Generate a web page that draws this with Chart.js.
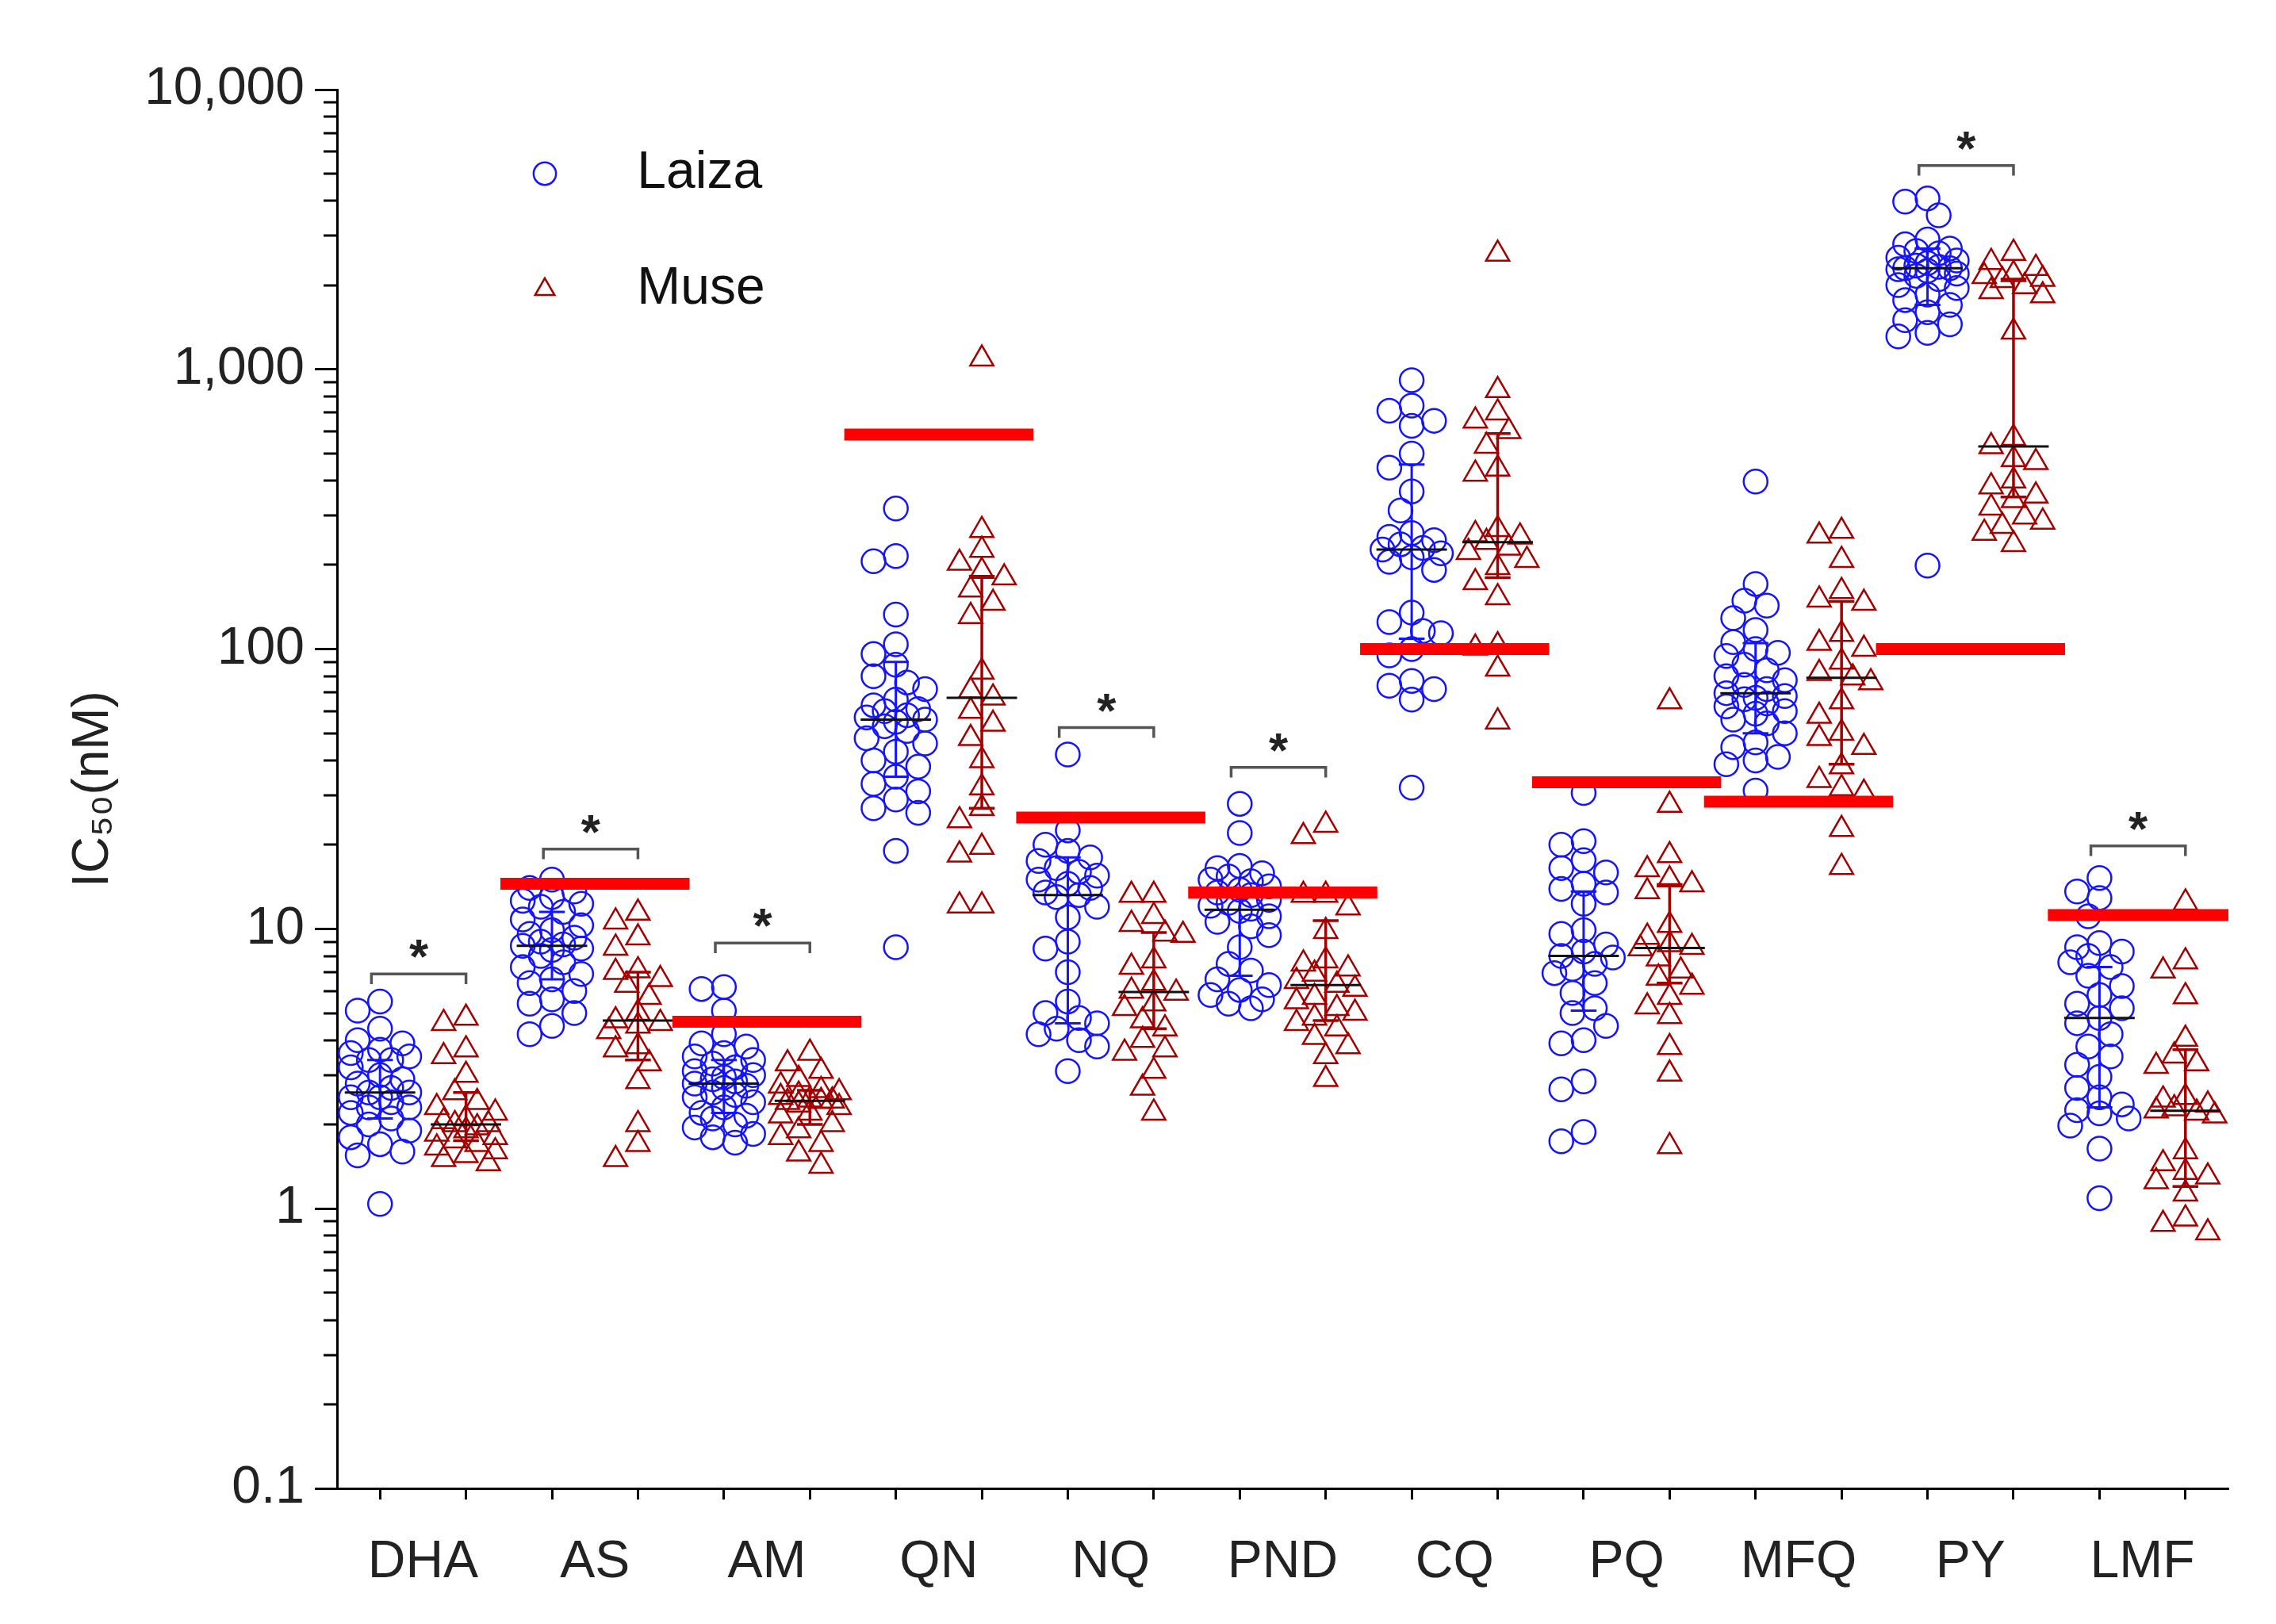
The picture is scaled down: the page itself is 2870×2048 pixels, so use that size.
<!DOCTYPE html>
<html>
<head>
<meta charset="utf-8">
<script src="https://cdn.jsdelivr.net/npm/chart.js@4.4.1/dist/chart.umd.min.js"></script>
<style>
  html, body { margin: 0; padding: 0; background: #fff; }
  #wrap { width: 2870px; height: 2048px; }
</style>
</head>
<body>
<div id="wrap"><canvas id="ic50Chart"></canvas></div>
<script>
// Drugs on the x axis and the two sites
const drugs = ['DHA', 'AS', 'AM', 'QN', 'NQ', 'PND', 'CQ', 'PQ', 'MFQ', 'PY', 'LMF'];
const siteNames = ['Laiza', 'Muse'];

// y axis (log) tick values and their labels
const yTickValues = [0.1, 1, 10, 100, 1000, 10000];
const yTickLabels = ['0.1', '1', '10', '100', '1,000', '10,000'];

// IC50 values (nM), per drug and site
const laizaDHA = [5.5, 5.1, 4.4, 4.0, 3.9, 3.7, 3.6, 3.5, 3.4, 3.4, 3.2, 3.0, 2.9, 2.8, 2.7, 2.6, 2.6, 2.5, 2.5, 2.4, 2.3, 2.3, 2.2, 2.1, 2.0, 1.9, 1.8, 1.7, 1.6, 1.55, 1.04];
const museDHA = [4.8, 4.6, 3.7, 3.5, 3.0, 2.6, 2.4, 2.3, 2.2, 2.1, 2.05, 2.0, 2.0, 1.95, 1.9, 1.85, 1.8, 1.75, 1.7, 1.65, 1.6, 1.55, 1.5, 1.45];
const laizaAS = [15, 14, 13.6, 13, 12.6, 12.3, 12, 11.5, 10.8, 10.3, 9.9, 9.6, 9.3, 9.0, 8.8, 8.7, 8.5, 8.4, 8.0, 7.6, 7.3, 6.9, 6.6, 6.4, 6.0, 5.6, 5.4, 5.0, 4.5, 4.2];
const museAS = [11.4, 10.6, 9.3, 8.55, 7.1, 7.0, 6.6, 6.3, 5.7, 5.0, 4.7, 4.6, 4.5, 4.3, 3.8, 3.7, 3.3, 2.85, 2.0, 1.7, 1.5];
const laizaAM = [6.2, 6.1, 5.1, 4.2, 3.9, 3.8, 3.6, 3.5, 3.4, 3.3, 3.2, 3.1, 3.0, 2.95, 2.9, 2.85, 2.8, 2.75, 2.7, 2.6, 2.55, 2.5, 2.4, 2.3, 2.2, 2.15, 2.1, 2.0, 1.95, 1.85, 1.8, 1.72];
const museAM = [3.6, 3.3, 3.1, 2.9, 2.75, 2.65, 2.6, 2.55, 2.5, 2.45, 2.43, 2.42, 2.4, 2.35, 2.3, 2.2, 2.15, 2.0, 1.9, 1.8, 1.7, 1.57, 1.42];
const laizaQN = [318, 215, 206, 133, 104, 96, 88, 80, 76, 72, 66, 63, 61, 60, 58, 57, 56, 55, 53, 51, 48, 46, 43, 40, 38, 35, 33, 31, 29, 27, 26, 19, 8.6];
const museQN = [1090, 266, 226, 203, 190, 180, 163, 146, 131, 83, 71, 67, 60, 54, 48, 40, 32, 27, 24.4, 19.6, 18.4, 12.1, 12.1];
const laizaNQ = [42, 22.5, 20, 19, 18, 17.5, 16.5, 16, 15.5, 15, 14.5, 14, 13.5, 13.2, 13, 12, 11, 9, 8.5, 7, 5.5, 5, 4.8, 4.6, 4.4, 4.2, 4.0, 3.8, 3.1];
const museNQ = [13.2, 13.2, 11.1, 10.4, 9.6, 9.5, 7.7, 7.3, 6.4, 6.0, 5.9, 5.4, 5.2, 4.7, 4.4, 4.0, 3.7, 3.6, 3.1, 2.7, 2.2];
const laizaPND = [28, 22, 16.8, 16.5, 15.8, 15.4, 15, 14.8, 14.2, 13.8, 13.5, 13.2, 12.7, 12.4, 12.1, 11.8, 11.6, 11.1, 10.6, 10.2, 9.5, 8.6, 7.5, 7.1, 6.6, 6.3, 6.05, 5.8, 5.6, 5.4, 5.2];
const musePND = [23.5, 21.4, 13.2, 13.2, 11.9, 9.8, 7.7, 7.5, 7.2, 6.9, 6.5, 6.3, 6.1, 5.7, 5.5, 5.2, 5.0, 4.8, 4.6, 4.4, 4.1, 3.8, 3.5, 2.9];
const laizaCQ = [914, 742, 711, 655, 628, 500, 445, 366, 313, 260, 252, 245, 237, 230, 227, 220, 213, 205, 192, 135, 125, 116, 114, 100, 95, 77, 74, 72, 66, 32];
const museCQ = [2584, 841, 700, 655, 600, 532, 441, 423, 268, 257, 252, 241, 230, 222, 208, 196, 173, 153, 103, 101, 85, 55];
const laizaPQ = [30.6, 20.6, 20, 17.6, 16.5, 15.9, 14.5, 13.9, 13.5, 12.3, 9.9, 9.6, 8.8, 8.3, 8.0, 7.9, 7.5, 7.2, 6.95, 6.4, 5.9, 5.2, 5.0, 4.5, 4.0, 3.9, 2.85, 2.67, 1.88, 1.74];
const musePQ = [64.9, 27.7, 18.3, 16.3, 15, 14.4, 13.6, 10.3, 9.35, 8.8, 8.6, 8.5, 7.83, 7.08, 6.68, 6.2, 5.7, 5.27, 4.87, 3.77, 3.03, 1.67];
const laizaMFQ = [397, 171, 149, 143, 129, 117, 106, 100, 97, 94.5, 88, 84, 80, 77.5, 74.5, 72, 69.6, 68, 67, 66.2, 64, 62.4, 60, 58.8, 56, 54.3, 50, 46.4, 44.6, 41.2, 40, 38.8, 31.2];
const museMFQ = [264, 254, 208, 161, 150, 146, 113, 105, 100, 90, 82, 79, 76, 64.9, 57.6, 50.1, 48, 44.6, 38, 34, 31.8, 30.6, 22.7, 16.6];
const laizaPY = [4080, 3980, 3555, 2915, 2800, 2704, 2650, 2600, 2507, 2450, 2400, 2350, 2326, 2300, 2298, 2280, 2250, 2200, 2159, 2100, 2000, 1953, 1850, 1769, 1700, 1600, 1500, 1449, 1350, 1312, 199];
const musePY = [2604, 2415, 2300, 2186, 2150, 2100, 2081, 1978, 1900, 1835, 1361, 568, 530, 477, 465, 400, 381, 353, 340, 320, 297, 285, 275, 260, 237];
const laizaLMF = [15.2, 13.6, 12.9, 11.1, 8.9, 8.6, 8.3, 8.0, 7.6, 7.3, 6.8, 6.25, 5.8, 5.4, 5.2, 4.8, 4.6, 4.2, 3.8, 3.5, 3.27, 2.96, 2.7, 2.5, 2.36, 2.25, 2.19, 2.1, 1.98, 1.64, 1.09];
const museLMF = [12.4, 7.64, 7.08, 5.73, 4.04, 3.52, 3.3, 3.23, 2.5, 2.45, 2.35, 2.28, 2.24, 2.2, 2.15, 1.6, 1.45, 1.35, 1.3, 1.25, 1.13, 0.92, 0.88, 0.82];

// medians and interquartile ranges (per drug)
const laizaMedian = [2.6, 8.7, 2.8, 56, 13.2, 11.7, 227, 8.0, 69.6, 2298, 4.8];
const museMedian = [2.0, 4.7, 2.43, 67, 5.95, 6.3, 241, 8.55, 79, 530, 2.24];
const laizaQ1 = [2.1, 6.6, 2.2, 35, 4.6, 6.8, 109, 5.1, 50, 1700, 2.3];
const laizaQ3 = [3.4, 11.5, 3.4, 90, 18, 14, 457, 13.6, 105, 2700, 7.3];
const museQ1 = [1.75, 3.4, 2.0, 27, 4.4, 4.7, 180, 6.4, 38.8, 350, 1.2];
const museQ3 = [2.6, 7.0, 2.65, 182, 9.7, 10.7, 590, 14.4, 148, 2100, 3.7];

// resistance cut-off per drug (red bars), null = none
const cutoffs = [null, 14.5, 4.66, 585, 25, 13.5, 100, 33.4, 28.5, 100, 11.2];
// height of the significance bracket per drug, null = not significant
const sigBrackets = [6.9, 19.3, 8.9, null, 52.4, 37.8, null, null, null, 5350, 19.8];

const laizaValues = [laizaDHA, laizaAS, laizaAM, laizaQN, laizaNQ, laizaPND, laizaCQ, laizaPQ, laizaMFQ, laizaPY, laizaLMF];
const museValues = [museDHA, museAS, museAM, museQN, museNQ, musePND, museCQ, musePQ, museMFQ, musePY, museLMF];

const FONT = "'Liberation Sans Narrow', 'Arial Narrow', 'Liberation Sans', Arial, sans-serif";
const BLUE = '#1414ff';
const DARK_RED = '#a30000';

// rough pixel sizes, only used to push overlapping markers sideways
const DECADE_PX = 353;
const UNIT_PX = 108;
const offsets = [0, -0.13, 0.13, -0.26, 0.26, -0.34, 0.34];

const spread = (values, cx) => {
    const placed = [];
    return values.map((v) => {
        const py = Math.log10(v) * DECADE_PX;
        let best = 0, bestDist = -1;
        for (const o of offsets) {
            const px = o * UNIT_PX;
            let d = Infinity;
            placed.forEach(p => { d = Math.min(d, Math.hypot(p[0] - px, p[1] - py)); });
            if (d >= 24) { best = o; break; }
            if (d > bestDist) { bestDist = d; best = o; }
        }
        placed.push([best * UNIT_PX, py]);
        return { x: cx + best, y: v };
    });
};

const pointsFor = (lists, shift) => lists.flatMap((vals, i) => spread(vals, 2 * i + shift));

// helper: line pieces separated by gaps
const pieces = (list, build) => {
    const out = [];
    list.forEach((v, i) => {
        if (v == null) return;
        build(v, i).forEach(seg => out.push(...seg, { x: 2 * i, y: null }));
    });
    return out;
};

const medianPieces = (meds, shift) => pieces(meds, (m, i) => {
    const x = 2 * i + shift;
    return [[{ x: x - 0.41, y: m }, { x: x + 0.41, y: m }]];
});

const iqrPieces = (q1, q3, shift) => pieces(q1, (lo, i) => {
    const x = 2 * i + shift, hi = q3[i];
    return [
        [{ x: x - 0.15, y: hi }, { x: x + 0.15, y: hi }],
        [{ x, y: hi }, { x, y: lo }],
        [{ x: x - 0.15, y: lo }, { x: x + 0.15, y: lo }]
    ];
});

const cutoffPieces = pieces(cutoffs, (c, i) => [[{ x: 2 * i - 0.1, y: c }, { x: 2 * i + 2.1, y: c }]]);

const bracketPieces = pieces(sigBrackets, (b, i) => {
    const lo = b * 0.92;
    return [[{ x: 2 * i + 0.4, y: lo }, { x: 2 * i + 0.4, y: b }, { x: 2 * i + 1.5, y: b }, { x: 2 * i + 1.5, y: lo }]];
});

const lineSet = (label, data, color, width) => ({
    label, data, showLine: true, spanGaps: false, borderColor: color, borderWidth: width,
    pointRadius: 0, borderCapStyle: 'butt', fill: false
});

// asterisks above brackets
const asteriskPlugin = {
    id: 'asterisks',
    afterDatasetsDraw(chart) {
        const { ctx, scales: { x, y } } = chart;
        ctx.save();
        ctx.fillStyle = '#222';
        ctx.font = `bold 62px ${FONT}`;
        ctx.textAlign = 'center';
        ctx.textBaseline = 'middle';
        sigBrackets.forEach((b, i) => {
            if (b == null) return;
            ctx.fillText('*', x.getPixelForValue(2 * i + 0.95), y.getPixelForValue(b) - 18);
        });
        ctx.restore();
    }
};

// short minor ticks on the log axis
const minorTicksPlugin = {
    id: 'minorTicks',
    afterDraw(chart) {
        const y = chart.scales.y;
        const ctx = chart.ctx;
        ctx.save();
        ctx.strokeStyle = '#000';
        ctx.lineWidth = 3;
        yTickValues.slice(0, -1).forEach(d => {
            for (let k = 2; k <= 9; k++) {
                const py = Math.round(y.getPixelForValue(d * k));
                ctx.beginPath();
                ctx.moveTo(y.right - 17, py);
                ctx.lineTo(y.right, py);
                ctx.stroke();
            }
        });
        ctx.restore();
    }
};

// move the legend into the upper left of the plot
const legendPlacePlugin = {
    id: 'legendPlace',
    afterLayout(chart) {
        if (!chart.legend) return;
        chart.legend.left += 172;
        chart.legend.top += 106;
    }
};

const ctx = document.getElementById('ic50Chart').getContext('2d');
new Chart(ctx, {
    type: 'scatter',
    data: {
        datasets: [
            lineSet('cutoff', cutoffPieces, '#ff0000', 15),
            lineSet('median', [...medianPieces(laizaMedian, 0.5), ...medianPieces(museMedian, 1.5)], '#111', 3),
            lineSet('iqrLaiza', iqrPieces(laizaQ1, laizaQ3, 0.5), BLUE, 3),
            lineSet('iqrMuse', iqrPieces(museQ1, museQ3, 1.5), DARK_RED, 3.5),
            lineSet('brackets', bracketPieces, '#555', 3.5),
            {
                label: siteNames[0],
                data: pointsFor(laizaValues, 0.5),
                pointStyle: 'circle',
                pointRadius: 15,
                borderColor: BLUE,
                backgroundColor: 'rgba(0,0,0,0)',
                borderWidth: 2.5
            },
            {
                label: siteNames[1],
                data: pointsFor(museValues, 1.5),
                pointStyle: 'triangle',
                pointRadius: 17,
                borderColor: DARK_RED,
                backgroundColor: 'rgba(0,0,0,0)',
                borderWidth: 2.5
            }
        ]
    },
    options: {
        responsive: true,
        maintainAspectRatio: false,
        devicePixelRatio: 1,
        animation: false,
        layout: { padding: { top: 113, right: 60, left: 0, bottom: 0 } },
        plugins: {
            tooltip: { enabled: false },
            legend: {
                position: 'chartArea',
                align: 'start',
                labels: {
                    usePointStyle: true,
                    boxWidth: 20,
                    boxHeight: 20,
                    padding: 80,
                    color: '#111',
                    font: { size: 66, family: FONT },
                    generateLabels(chart) {
                        return Chart.defaults.plugins.legend.labels.generateLabels(chart)
                            .filter(l => siteNames.includes(l.text))
                            .map(l => ({ ...l, text: '    ' + l.text }));
                    }
                }
            }
        },
        scales: {
            x: {
                type: 'linear',
                min: 0,
                max: 22,
                afterFit(scale) { scale.height = 171; },
                afterBuildTicks(scale) {
                    const t = [];
                    drugs.forEach((d, i) => t.push({ value: 2 * i + 0.5 }, { value: 2 * i + 1 }, { value: 2 * i + 1.5 }));
                    scale.ticks = t;
                },
                border: { display: true, color: '#000', width: 3 },
                grid: {
                    drawOnChartArea: false,
                    tickLength: 14,
                    tickWidth: 3,
                    tickColor: (c) => (c.tick && Number.isInteger(c.tick.value)) ? 'rgba(0,0,0,0)' : '#000'
                },
                ticks: {
                    autoSkip: false,
                    maxRotation: 0,
                    padding: 40,
                    color: '#222',
                    font: { size: 66, family: FONT },
                    callback: (v) => Number.isInteger(v) ? drugs[(v - 1) / 2] : ''
                }
            },
            y: {
                type: 'logarithmic',
                min: 0.1,
                max: 10000,
                afterFit(scale) { scale.width = 425; },
                afterBuildTicks(scale) {
                    scale.ticks = yTickValues.map(v => ({ value: v, major: true }));
                },
                border: { display: true, color: '#000', width: 3 },
                grid: { drawOnChartArea: false, tickLength: 28, tickWidth: 3, tickColor: '#000' },
                ticks: {
                    autoSkip: false,
                    padding: 13,
                    color: '#222',
                    font: { size: 66, family: FONT },
                    callback: (v) => {
                        const k = yTickValues.indexOf(v);
                        return k >= 0 ? yTickLabels[k] : '';
                    }
                },
                title: {
                    display: true,
                    text: 'IC₅₀(nM)',
                    color: '#222',
                    font: { size: 64, family: FONT },
                    padding: { top: 80, bottom: 0 }
                }
            }
        }
    },
    plugins: [asteriskPlugin, minorTicksPlugin, legendPlacePlugin]
});
</script>
</body>
</html>
